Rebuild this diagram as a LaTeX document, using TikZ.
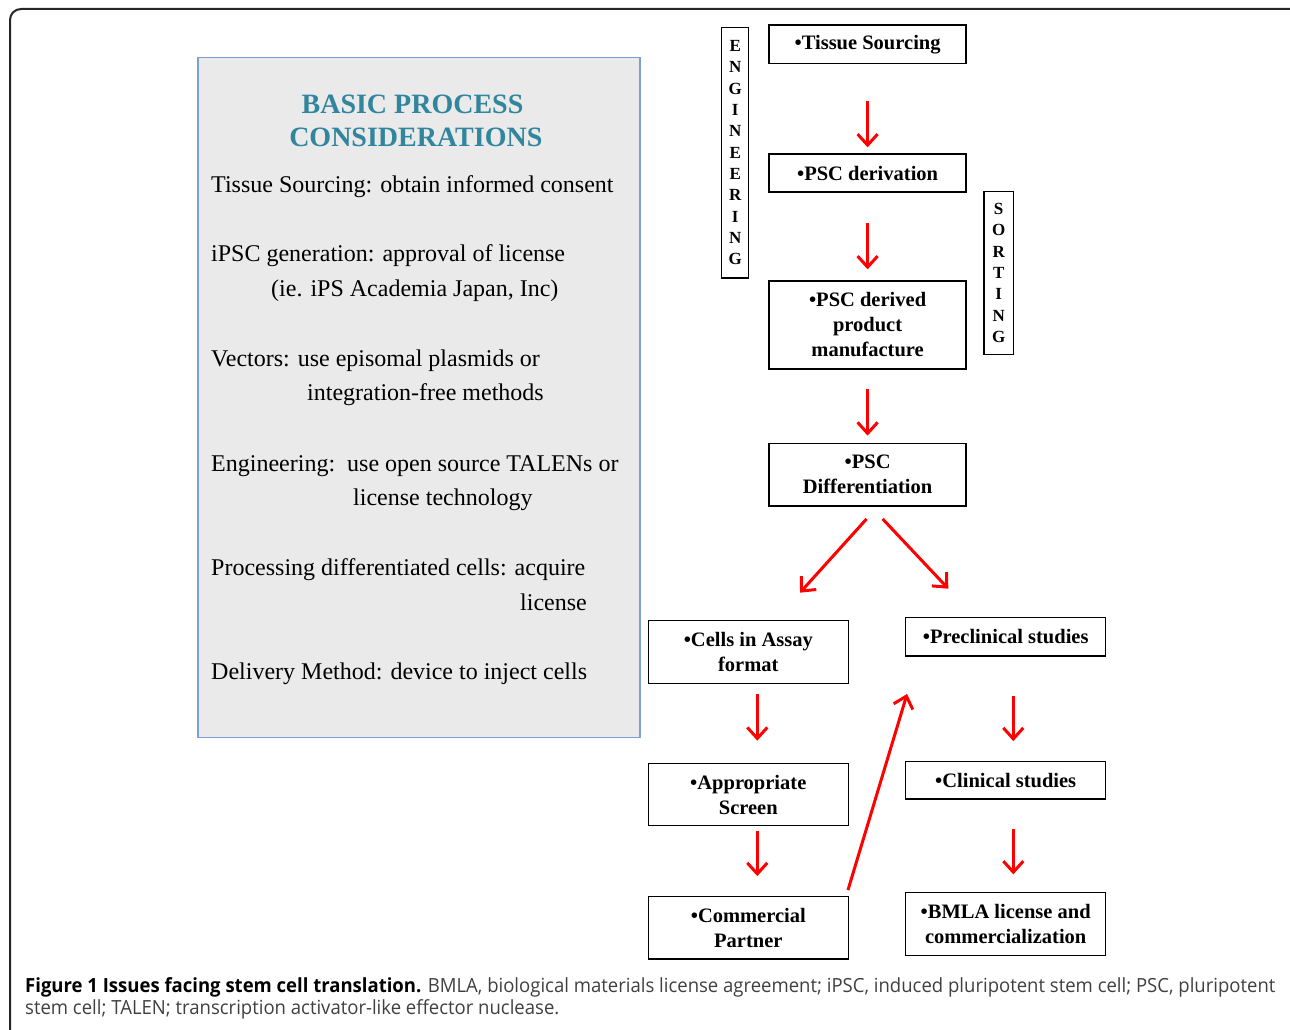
\documentclass[tikz,border=0pt]{standalone}
\usepackage{fontspec}
\setmainfont{Liberation Serif}
\newfontfamily\capfont[FakeStretch=0.95]{Open Sans}
\usetikzlibrary{arrows.meta}
\definecolor{headteal}{HTML}{31859C}
\definecolor{panelgray}{HTML}{EAEAEA}
\definecolor{panelblue}{HTML}{7A9FD4}

\begin{document}
\begin{tikzpicture}
[x=1pt,y=-1pt,
box/.style={rectangle, draw, line width=1.3pt, minimum width=197pt, align=center, inner sep=0pt, font={\bfseries\fontsize{20.5}{25}\selectfont}},
sidebox/.style={rectangle, draw, line width=1.3pt, inner sep=0pt, align=center, font={\bfseries\fontsize{17}{21.3}\selectfont}},
arr/.style={-{Straight Barb[length=11pt,width=20pt,line width=3pt]}, red, line width=3pt},
note/.style={anchor=base west, inner sep=0pt, font={\fontsize{24}{29}\selectfont}},
head/.style={inner sep=0pt, text=headteal, font={\bfseries\fontsize{28}{33}\selectfont}},
caption/.style={anchor=base west, inner sep=0pt, text=black!75, font={\capfont\fontsize{19.5}{21.6}\selectfont}}]
    \useasboundingbox (0,0) rectangle (1290,1030);
    \clip (0,0) rectangle (1290,1030);
    \draw[line width=2pt, black!85, rounded corners=11pt] (10,9) rectangle (1320,1060);
    % left panel
    \node[rectangle, draw=panelblue, fill=panelgray, line width=1.2pt, minimum width=442pt, minimum height=680pt] (panel) at (419,397.5) {};
    \node[head] (head1) at (412.5,104.5) {BASIC PROCESS};
    \node[head] (head2) at (415.8,137.8) {CONSIDERATIONS};
    \node[note] (n1) at (211,192.7) {Tissue Sourcing: obtain informed consent};
    \node[note] (n2) at (211,261.7) {iPSC generation: approval of license};
    \node[note] (n2b) at (271,296) {(ie. iPS Academia Japan, Inc)};
    \node[note] (n3) at (211,366.7) {Vectors: use episomal plasmids or};
    \node[note] (n3b) at (307,400.7) {integration-free methods};
    \node[note] (n4) at (211,471) {Engineering:\ \ use open source TALENs or};
    \node[note] (n4b) at (353,505) {license technology};
    \node[note] (n5) at (211,575.7) {Processing differentiated cells: acquire};
    \node[note, anchor=base east] (n5b) at (587,610) {license};
    \node[note] (n6) at (211,679) {Delivery Method: device to inject cells};
    % flow
    \node[sidebox, minimum width=27pt, minimum height=250.7pt] (eng) at (735.2,152.7) {E\\N\\G\\I\\N\\E\\E\\R\\I\\N\\G};
    \node[sidebox, minimum width=29.3pt, minimum height=162.6pt] (sort) at (998.7,273) {S\\O\\R\\T\\I\\N\\G};
    \node[box, minimum height=38.3pt] (ts) at (867.6,44.2) {•Tissue Sourcing};
    \node[box, minimum height=38pt] (pscd) at (867.6,173) {•PSC derivation};
    \node[box, minimum height=88pt] (manuf) at (867.6,325) {•PSC derived\\product\\manufacture};
    \node[box, minimum height=62.7pt] (diff) at (867.6,474.6) {•PSC\\Differentiation};
    \node[box, minimum width=200pt, minimum height=62.6pt] (cells) at (748.3,652) {•Cells in Assay\\format};
    \node[box, minimum width=200pt, minimum height=38.3pt] (precl) at (1005.7,636.9) {•Preclinical studies};
    \node[box, minimum width=200pt, minimum height=62.4pt] (screen) at (748.3,794.5) {•Appropriate\\Screen};
    \node[box, minimum width=200pt, minimum height=37.3pt] (clin) at (1005.7,780.4) {•Clinical studies};
    \node[box, minimum width=200pt, minimum height=62.3pt] (comm) at (748.3,927.9) {•Commercial\\Partner};
    \node[box, minimum width=200pt, minimum height=63pt] (bmla) at (1005.7,924.2) {•BMLA license and\\commercialization};
    \path [arr] (ts) edge[shorten <=36.7pt, shorten >=6pt] (pscd);
    \path [arr] (pscd) edge[shorten <=30pt, shorten >=11pt] (manuf);
    \path [arr] (manuf) edge[shorten <=19pt, shorten >=7pt] (diff);
    \path [arr] ([xshift=-1pt,yshift=-12.3pt]diff.south) edge ([xshift=51.7pt,yshift=27.4pt]cells.north);
    \path [arr] ([xshift=15pt,yshift=-12.3pt]diff.south) edge ([xshift=-57.4pt,yshift=28.4pt]precl.north);
    \path [arr] ([xshift=9pt]cells.south) edge[shorten <=10pt, shorten >=22pt] ([xshift=9pt]screen.north);
    \path [arr] ([xshift=9pt]screen.south) edge[shorten <=4.3pt, shorten >=20pt] ([xshift=9pt]comm.north);
    \path [arr] ([xshift=-1pt,yshift=6pt]comm.north east) edge ([xshift=2pt,yshift=-37.3pt]precl.south west);
    \path [arr] ([xshift=7.6pt]precl.south) edge[shorten <=39pt, shorten >=20pt] ([xshift=7.6pt]clin.north);
    \path [arr] ([xshift=7.6pt]clin.south) edge[shorten <=29.3pt, shorten >=17.7pt] ([xshift=7.6pt]bmla.north);
    % caption
    \node[caption] (cap1) at (25,992.7) {{\bfseries\color{black}Figure 1 Issues facing stem cell translation.} BMLA, biological materials license agreement; iPSC, induced pluripotent stem cell; PSC, pluripotent};
    \node[caption] (cap2) at (25,1014.3) {stem cell; TALEN; transcription activator-like effector nuclease.};
\end{tikzpicture}
\end{document}
